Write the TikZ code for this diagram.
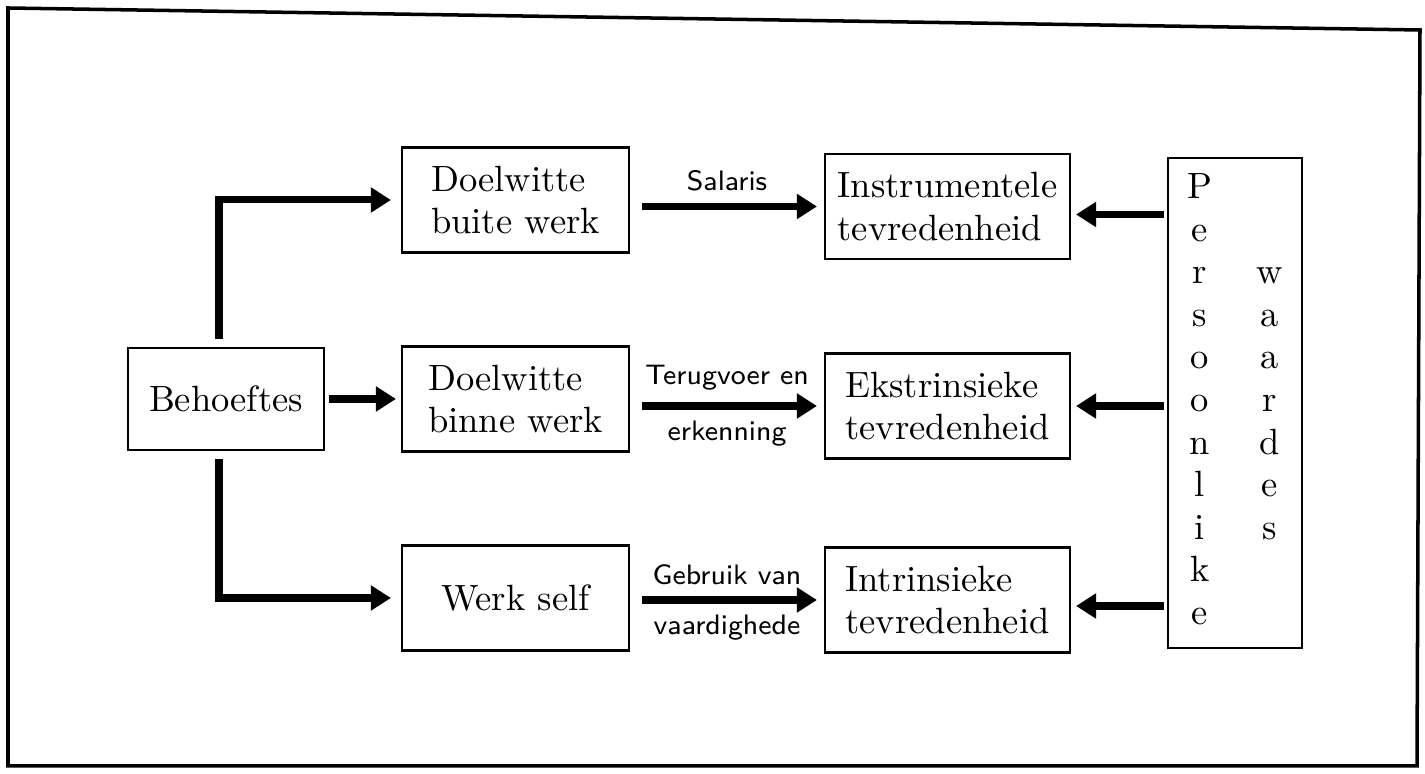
\documentclass[tikz,border=0pt]{standalone}
\usepackage{tikz}
\usetikzlibrary{positioning, arrows.meta, calc}

\begin{document}
\begin{tikzpicture}[
    box/.style={draw, line width=0.6pt, align=left, inner sep=2pt,
                font=\fontsize{10.4}{12.1}\selectfont},
    midbox/.style={box, minimum width=2.27cm, minimum height=1.05cm},
    tevbox/.style={box, minimum width=2.45cm, minimum height=1.05cm},
    arr/.style={-{Triangle[length=2mm, width=2.4mm]}, line width=2pt},
    lbl/.style={font=\sffamily\fontsize{8}{9.6}\selectfont}
]
\useasboundingbox (0,0) rectangle (14.25,7.74);

% outer frame
\draw[line width=1pt] (0.08,7.66) -- (14.2,7.44) -- (14.17,0.08) -- (0.08,0.08) -- cycle;

\node[box, minimum width=1.96cm, minimum height=1.02cm] (beh) at (2.26,3.75) {Behoeftes};

\node[midbox] (buite) at (5.155,5.74) {Doelwitte\\buite werk};
\node[midbox] (binne) at (5.155,3.75) {Doelwitte\\binne werk};
\node[midbox] (self)  at (5.155,1.76) {Werk self};

\node[tevbox] (instr) at (9.475,5.675) {Instrumentele\\tevredenheid};
\node[tevbox] (ekstr) at (9.475,3.68) {Ekstrinsieke\\tevredenheid};
\node[tevbox] (intr)  at (9.475,1.74) {Intrinsieke\\tevredenheid};

\node[box, minimum width=1.34cm, minimum height=4.9cm] (pers) at (12.35,3.71)
    {\begin{tabular}{@{}c@{\hspace{4.4mm}}c@{}}
     P & \\ e & \\ r & w \\ s & a \\ o & a \\ o & r \\
     n & d \\ l & e \\ i & s \\ k & \\ e &
     \end{tabular}};

% behoeftes to the goals
\draw[arr, shorten >=1mm] ([xshift=-0.7mm, yshift=0.8mm]beh.north) |- (buite.west);
\draw[arr, shorten <=0.4mm, shorten >=0.5mm] (beh.east) -- (binne.west);
\draw[arr, shorten >=1mm] ([xshift=-0.7mm, yshift=-0.8mm]beh.south) |- (self.west);

% goals to satisfaction
\draw[arr, shorten <=1.2mm, shorten >=0.7mm] (buite.east |- instr) -- node[lbl, above] {Salaris} (instr.west);
\draw[arr, shorten <=1.2mm, shorten >=0.7mm] (binne.east |- ekstr) -- node[lbl, above] {Terugvoer en}
    node[lbl, below] {erkenning} (ekstr.west);
\draw[arr, shorten <=1.2mm, shorten >=0.7mm] (self.east |- intr) -- node[lbl, above] {Gebruik van}
    node[lbl, below] {vaardighede} (intr.west);

% personal values
\draw[arr, shorten <=0.3mm, shorten >=0.5mm] ([yshift=-0.8mm]pers.west |- instr) -- ([yshift=-0.8mm]instr.east);
\draw[arr, shorten <=0.3mm, shorten >=0.5mm] (pers.west |- ekstr) -- (ekstr.east);
\draw[arr, shorten <=0.3mm, shorten >=0.5mm] ([yshift=-0.6mm]pers.west |- intr) -- ([yshift=-0.6mm]intr.east);

\end{tikzpicture}
\end{document}
